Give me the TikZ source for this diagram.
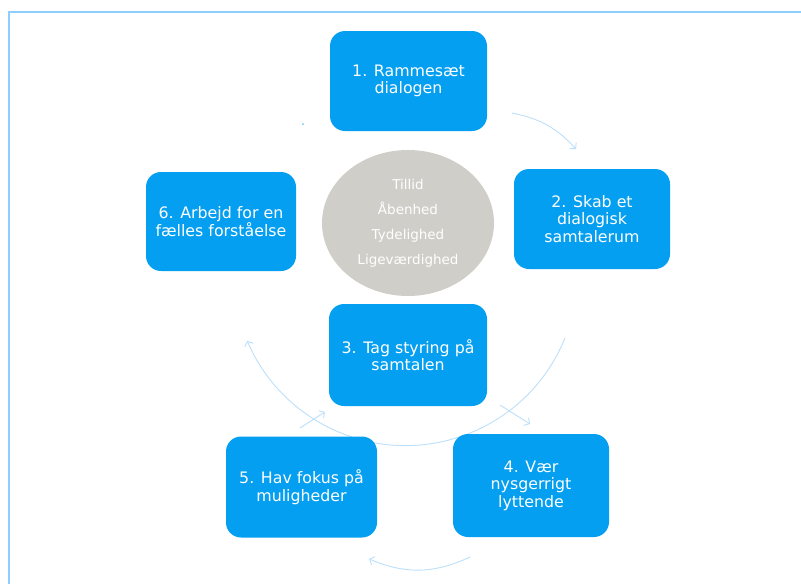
\documentclass[tikz,border=0pt]{standalone}
\usepackage{fontspec}
\setmainfont{DejaVu Sans}
\usepackage{xcolor}
\usepackage{tikz}
\usetikzlibrary{arrows.meta,shapes.geometric}

\definecolor{phaseblue}{RGB}{4,159,240}
\definecolor{coregrey}{RGB}{208,206,201}
\definecolor{cyclelight}{RGB}{188,223,250}
\definecolor{framelight}{RGB}{142,206,255}

\begin{document}
\begin{tikzpicture}[x=1pt, y=-1pt,
    phase/.style={rectangle, rounded corners=15pt, fill=phaseblue, text=white, align=center,
        minimum width=156pt, minimum height=101pt, inner sep=0pt, font=\fontsize{15.8}{17.5}\selectfont},
    cycle/.style={draw=cyclelight, line width=0.9pt, -{Straight Barb[length=4pt,width=9pt]}}]

    \useasboundingbox (0,0) rectangle (801,584);
    \draw[framelight, line width=2pt] (801,12) -- (9,12) -- (9,584);

    % pieces of the cycle, behind the boxes
    \coordinate (a1) at (512,113);
    \coordinate (a2) at (576,149);
    \coordinate (b1) at (565,338);
    \coordinate (c1) at (300,428);
    \coordinate (c2) at (325,412);
    \coordinate (e1) at (500,405);
    \coordinate (e2) at (530,424);
    \coordinate (d1) at (470,557);
    \coordinate (d2) at (369,559);
    \coordinate (f1) at (303,124);

    \draw[cycle] (a1) to[bend left=18] (a2);
    \draw[cycle] (b1) arc[start angle=22, end angle=157, radius=172];
    \draw[cycle] (c1) -- (c2);
    \draw[cycle] (e1) -- (e2);
    \draw[cycle] (d1) to[bend left=24] (d2);
    \fill[cyclelight!60!phaseblue] (f1) circle (1pt);

    % values in the middle
    \node[ellipse, fill=coregrey, minimum width=172pt, minimum height=146pt, inner sep=0pt,
        text=white, align=center, font=\fontsize{13.5}{25}\selectfont] (core) at (408,223)
        {Tillid\\Åbenhed\\Tydelighed\\Ligeværdighed};

    \node[phase, minimum width=157pt, minimum height=100pt] (R) at (408.5,81) {1. Rammesæt\\dialogen};
    \node[phase, minimum height=100pt] (S) at (592,219) {2. Skab et\\dialogisk\\samtalerum};
    \node[phase, minimum width=158pt, minimum height=102pt] (T) at (408,355) {3. Tag styring på\\samtalen};
    \node[phase, minimum height=103pt] (V) at (531,485.5) {4. Vær\\nysgerrigt\\lyttende};
    \node[phase, minimum width=151pt] (H) at (301.5,487) {5. Hav fokus på\\muligheder};
    \node[phase, minimum width=150pt, minimum height=99pt] (A) at (221,221.5) {6. Arbejd for en\\fælles forståelse};
\end{tikzpicture}
\end{document}
